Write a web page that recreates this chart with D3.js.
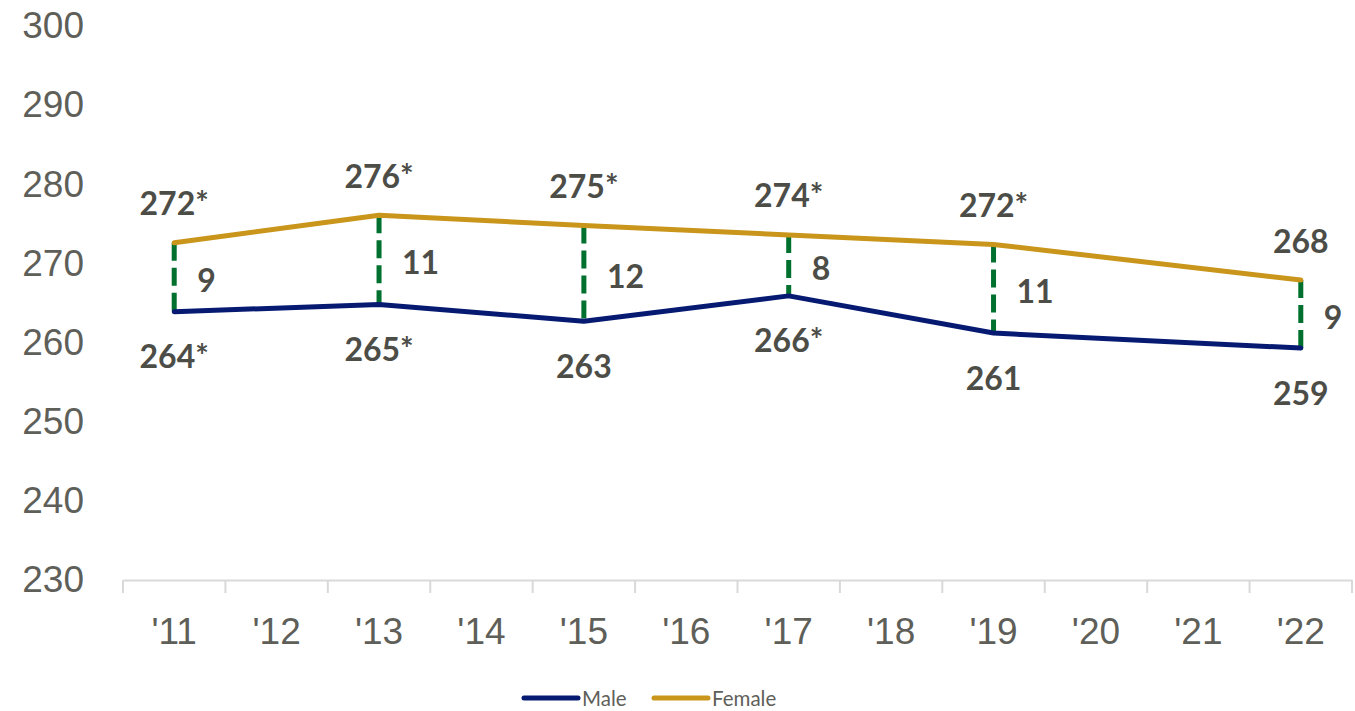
<!DOCTYPE html>
<html lang="en">
<head>
<meta charset="UTF-8">
<title>Male vs Female</title>
<script src="https://d3js.org/d3.v7.min.js"></script>
<style>
  body { margin: 0; background: #fff; }
  svg { font-family: Lato, "Open Sans", sans-serif; }
</style>
</head>
<body>
<script>
var years = ["'11", "'12", "'13", "'14", "'15", "'16", "'17", "'18", "'19", "'20", "'21", "'22"];
var yTicks = [230, 240, 250, 260, 270, 280, 290, 300];

// only the years that were measured
var pointYears = ["'11", "'13", "'15", "'17", "'19", "'22"];
var male = [263.9, 264.8, 262.7, 265.9, 261.2, 259.3];
var female = [272.6, 276.1, 274.8, 273.6, 272.4, 267.9];
var maleLabels = ["264*", "265*", "263", "266*", "261", "259"];
var femaleLabels = ["272*", "276*", "275*", "274*", "272*", "268"];
var gapLabels = ["9", "11", "12", "8", "11", "9"];

var width = 1355, height = 711;
var textGrey = "#5f5f5a", labelGrey = "#4d4d48";
var maleColor = "#061a72", femaleColor = "#c9951b", gapColor = "#00702f";

var svg = d3.select("body").append("svg")
    .attr("width", width)
    .attr("height", height);

var x = d3.scaleBand()
    .domain(years)
    .range([123, 1352]);

var y = d3.scaleLinear()
    .domain([230, 300])
    .range([580, 26]);

var cx = function(yr) { return x(yr) + x.bandwidth() / 2; };

// x axis
var xAxis = svg.append("g")
    .attr("transform", "translate(0,580)")
    .call(d3.axisBottom(x).tickSize(0).tickPadding(38));
xAxis.select(".domain").attr("stroke", "#d9d9d9").attr("stroke-width", 2);
xAxis.selectAll("text")
    .attr("fill", textGrey)
    .attr("font-size", 37);

// band boundary ticks
svg.append("g").selectAll("line")
    .data(years.concat(["end"]))
    .join("line")
    .attr("x1", function(d, i) { return i < years.length ? x(d) : x.range()[1]; })
    .attr("x2", function(d, i) { return i < years.length ? x(d) : x.range()[1]; })
    .attr("y1", 580)
    .attr("y2", 593)
    .attr("stroke", "#d9d9d9")
    .attr("stroke-width", 2);

// y axis labels (no line)
var yAxis = svg.append("g")
    .attr("transform", "translate(84,0)")
    .call(d3.axisLeft(y).tickValues(yTicks).tickSize(0).tickPadding(0));
yAxis.select(".domain").remove();
yAxis.selectAll("text")
    .attr("fill", textGrey)
    .attr("font-size", 37);

// dashed gap lines
svg.append("g").selectAll("line")
    .data(pointYears)
    .join("line")
    .attr("x1", function(d) { return cx(d); })
    .attr("x2", function(d) { return cx(d); })
    .attr("y1", function(d, i) { return y(female[i]); })
    .attr("y2", function(d, i) { return y(male[i]); })
    .attr("stroke", gapColor)
    .attr("stroke-width", 5)
    .attr("stroke-dasharray", "18,7");

var line = d3.line()
    .x(function(d) { return cx(d[0]); })
    .y(function(d) { return y(d[1]); });

svg.append("path")
    .datum(d3.zip(pointYears, female))
    .attr("d", line)
    .attr("fill", "none")
    .attr("stroke", femaleColor)
    .attr("stroke-width", 5)
    .attr("stroke-linejoin", "round")
    .attr("stroke-linecap", "round");

svg.append("path")
    .datum(d3.zip(pointYears, male))
    .attr("d", line)
    .attr("fill", "none")
    .attr("stroke", maleColor)
    .attr("stroke-width", 5)
    .attr("stroke-linejoin", "round")
    .attr("stroke-linecap", "round");

// data labels
var labels = svg.append("g")
    .attr("font-size", 32)
    .attr("font-weight", "bold")
    .attr("fill", labelGrey);

labels.selectAll(".f")
    .data(pointYears)
    .join("text")
    .attr("x", function(d) { return cx(d); })
    .attr("y", function(d, i) { return y(female[i]) - 40; })
    .attr("text-anchor", "middle")
    .attr("dominant-baseline", "central")
    .text(function(d, i) { return femaleLabels[i]; });

labels.selectAll(".m")
    .data(pointYears)
    .join("text")
    .attr("x", function(d) { return cx(d); })
    .attr("y", function(d, i) { return y(male[i]) + 44; })
    .attr("text-anchor", "middle")
    .attr("dominant-baseline", "central")
    .text(function(d, i) { return maleLabels[i]; });

labels.selectAll(".g")
    .data(pointYears)
    .join("text")
    .attr("x", function(d) { return cx(d) + 23; })
    .attr("y", function(d, i) { return (y(female[i]) + y(male[i])) / 2 + 2; })
    .attr("dominant-baseline", "central")
    .text(function(d, i) { return gapLabels[i]; });

// legend
var legendItems = [
  { name: "Male", color: maleColor, x: 522 },
  { name: "Female", color: femaleColor, x: 652 }
];
var legend = svg.append("g").selectAll("g")
    .data(legendItems)
    .join("g")
    .attr("transform", function(d) { return "translate(" + d.x + ",698)"; });
legend.append("line")
    .attr("x1", 2).attr("x2", 56)
    .attr("stroke", function(d) { return d.color; })
    .attr("stroke-width", 5)
    .attr("stroke-linecap", "round");
legend.append("text")
    .attr("x", 60)
    .attr("dominant-baseline", "central")
    .attr("font-size", 20.5)
    .attr("fill", textGrey)
    .text(function(d) { return d.name; });
</script>
</body>
</html>
